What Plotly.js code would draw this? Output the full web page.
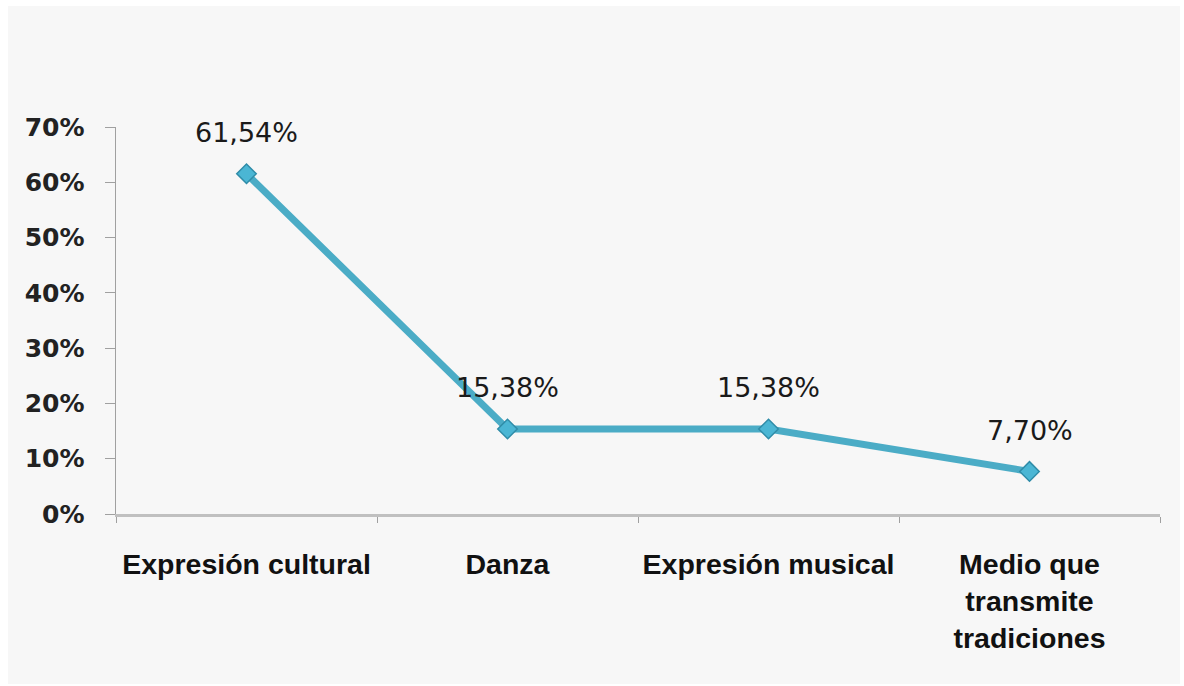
<!DOCTYPE html>
<html>
<head>
<meta charset="utf-8">
<script src="https://cdn.plot.ly/plotly-3.0.1.min.js"></script>
<style>
html,body{margin:0;padding:0;background:#ffffff;}
#chart{position:absolute;left:8px;top:6px;width:1172px;height:678px;}
</style>
</head>
<body>
<div id="chart"></div>
<script>
const categories = ["Expresión cultural", "Danza", "Expresión musical", "Medio que<br>transmite<br>tradiciones"];
const values = [61.54, 15.38, 15.38, 7.70];
const valueLabels = ["61,54%", "15,38%", "15,38%", "7,70%"];
const yTickVals = [0, 10, 20, 30, 40, 50, 60, 70];
const yTickText = ["0%", "10%", "20%", "30%", "40%", "50%", "60%", "70%"];

const trace = {
  x: categories,
  y: values,
  type: "scatter",
  mode: "lines+markers",
  line: {color: "#4bacc6", width: 7},
  marker: {symbol: "diamond", size: 15, color: "#4bb6d4", line: {color: "#2f8ca8", width: 1.5}},
  hoverinfo: "skip"
};

const annotations = categories.map((c, i) => ({
  x: c, y: values[i], xref: "x", yref: "y",
  text: valueLabels[i], showarrow: false, yshift: 41,
  font: {family: "DejaVu Sans", size: 27, color: "#1a1a1a"}
}));

const layout = {
  paper_bgcolor: "#f7f7f7",
  plot_bgcolor: "#f7f7f7",
  margin: {l: 108, r: 20, t: 121, b: 170},
  showlegend: false,
  xaxis: {
    type: "category",
    range: [-0.5, 3.5],
    tickson: "boundaries",
    ticks: "outside",
    ticklen: 6,
    tickcolor: "#a0a0a0",
    showline: true,
    linecolor: "#c0c0c0",
    linewidth: 3,
    showgrid: false,
    zeroline: false,
    ticklabelstandoff: 23,
    tickfont: {family: "Liberation Sans, Arial, sans-serif", size: 28.5, color: "#111111", weight: "bold"}
  },
  yaxis: {
    range: [0, 70],
    tickvals: yTickVals,
    ticktext: yTickText,
    ticks: "outside",
    ticklen: 10,
    tickcolor: "#a0a0a0",
    showline: true,
    linecolor: "#a0a0a0",
    linewidth: 1.5,
    showgrid: false,
    zeroline: false,
    ticklabelstandoff: 15,
    tickfont: {family: "DejaVu Sans", size: 25, color: "#222222", weight: "bold"}
  },
  annotations: annotations
};

Plotly.newPlot("chart", [trace], layout, {displayModeBar: false, staticPlot: true});
</script>
</body>
</html>
